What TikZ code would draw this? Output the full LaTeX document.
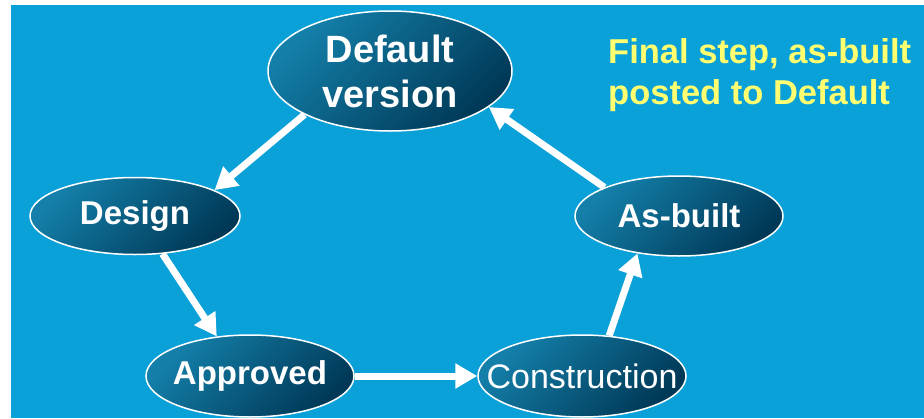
\documentclass[tikz,border=0pt]{standalone}
\usepackage{fontspec}
\setmainfont{Liberation Sans}
\usetikzlibrary{shapes.geometric,arrows.meta}
\definecolor{bgblue}{RGB}{10,160,216}
\definecolor{ovtop}{RGB}{20,128,170}
\definecolor{ovbot}{RGB}{0,56,86}
\definecolor{notey}{RGB}{255,255,112}

\begin{document}
\begin{tikzpicture}[x=1pt,y=-1pt,
	stage/.style={ellipse, draw=white, line width=1.5pt, top color=ovtop, bottom color=ovbot,
		shading angle=45, inner xsep=-25pt, inner ysep=0pt, text=white,
		font=\bfseries\fontsize{33}{38}\selectfont},
	flow/.style={draw=white, line width=7pt, -{Triangle[length=22pt,width=24pt]}}]
	% background
	\useasboundingbox (0,0) rectangle (924,418);
	\fill[white] (0,0) rectangle (924,418);
	\fill[bgblue] (11,5) rectangle (924,418);

	% stages
	\node[stage, minimum width=244pt, minimum height=120pt, align=center,
		font=\bfseries\fontsize{38}{45}\selectfont] (dv) at (390,71) {Default\\version};
	\node[stage, minimum width=210pt, minimum height=77pt] (de) at (135,216) {Design};
	\node[stage, minimum width=208pt, minimum height=82pt] (ap) at (250,376) {Approved};
	\node[stage, minimum width=208pt, minimum height=82pt,
		font=\fontsize{34}{40}\selectfont] (co) at (582,376) {Construction};
	\node[stage, minimum width=208pt, minimum height=80pt] (ab) at (679,216) {As-built};

	% note
	\node[anchor=west, align=left, text=notey, inner sep=0pt,
		font=\bfseries\fontsize{34.5}{41}\selectfont] (nt) at (608,75)
		{Final step, as-built\\posted to Default};

	% cycle
	\draw[flow] (dv.207) -- (de.18);
	\draw[flow] (de.306) -- (ap.130);
	\draw[flow] (ap.east) -- (co.west);
	\draw[flow] (co.56) -- (ab.222);
	\draw[flow] (ab.159) -- (dv.340);

\end{tikzpicture}
\end{document}
